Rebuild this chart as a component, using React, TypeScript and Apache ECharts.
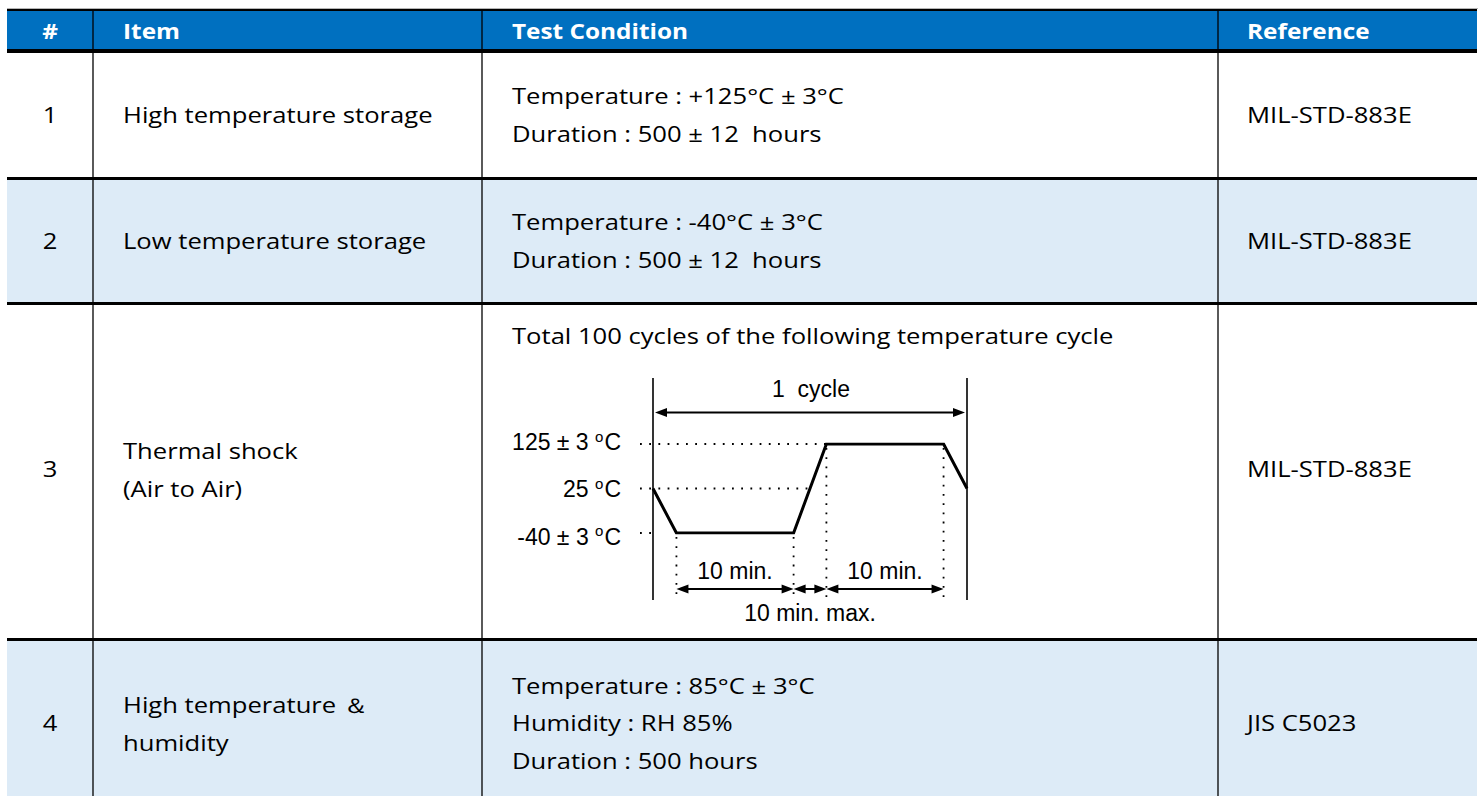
import React, { useEffect, useRef } from "react";
import * as echarts from "echarts";

// ---------- table content ----------
const headers = ["#", "Item", "Test Condition", "Reference"];
const rowNumbers = ["1", "2", "3", "4"];
const items = [
  ["High temperature storage"],
  ["Low temperature storage"],
  ["Thermal shock", "(Air to Air)"],
  ["High temperature ＆", "humidity"],
];
const conditions = [
  ["Temperature : +125°C ± 3°C", "Duration : 500 ± 12  hours"],
  ["Temperature : -40°C ± 3°C", "Duration : 500 ± 12  hours"],
  ["Total 100 cycles of the following temperature cycle"],
  ["Temperature : 85°C ± 3°C", "Humidity : RH 85%", "Duration : 500 hours"],
];
const references = ["MIL-STD-883E", "MIL-STD-883E", "MIL-STD-883E", "JIS C5023"];

// ---------- thermal-cycle diagram content ----------
const levelLabels = ["-40 ± 3 ", "25 ", "125 ± 3 "]; // followed by superscript o + C
const cycleTimes = [0, 2, 12, 14.8, 24.8, 26.8]; // minutes (schematic)
const cycleLevels = [1, 0, 0, 2, 2, 1]; // index into levelLabels
const cycleLabel = "1  cycle";
const dwellLabels = ["10 min.", "10 min."];
const transferLabel = "10 min. max.";

// ---------- layout (positions / styles) ----------
const W = 1478;
const H = 796;
const X0 = 7;
const X1 = 1477;
const colX = [X0, 93, 482, 1218, X1];
const rowBands = [
  [53, 177],
  [180, 302],
  [305, 638],
  [641, 800],
];
const rowFill = ["#FFFFFF", "#DDEBF7", "#FFFFFF", "#DDEBF7"];
const rowCenter = [115, 241, 469, 723];
const condTop = [null, null, 336, null];
const LINE = 38;
const BODY_FONT = "'Open Sans', sans-serif";
const BODY_SIZE = 21;
const SX = 1.22;
const HSX = 1.16;
const DIAG_FONT = "'Liberation Sans', Arial, sans-serif";
const DIAG_SIZE = 23;
const DSX = 1.0;

function txt(text: string, x: number, y: number, o: any = {}) {
  return {
    type: "text",
    x,
    y,
    scaleX: o.scaleX ?? SX,
    z: 10,
    style: {
      text,
      x: 0,
      y: 0,
      fill: o.fill ?? "#000",
      fontFamily: o.fontFamily ?? BODY_FONT,
      fontSize: o.fontSize ?? BODY_SIZE,
      fontWeight: o.fontWeight ?? "normal",
      textAlign: o.align ?? "left",
      align: o.align ?? "left",
      textVerticalAlign: "middle",
      verticalAlign: "middle",
      rich: o.rich,
    },
  };
}

function rect(x: number, y: number, w: number, h: number, fill: string, z = 1) {
  return { type: "rect", z, shape: { x, y, width: w, height: h }, style: { fill } };
}

function line(x1: number, y1: number, x2: number, y2: number, w: number, dash?: number[], z = 5) {
  return {
    type: "line",
    z,
    shape: { x1, y1, x2, y2 },
    style: { stroke: "#000", lineWidth: w, lineDash: dash, fill: null },
  };
}

function arrowHead(tipX: number, y: number, dir: number) {
  const L = 12;
  const hw = 4.5;
  return {
    type: "polygon",
    z: 6,
    shape: {
      points: [
        [tipX, y],
        [tipX - dir * L, y - hw],
        [tipX - dir * L, y + hw],
      ],
    },
    style: { fill: "#000" },
  };
}

function dblArrow(xa: number, xb: number, y: number) {
  return [line(xa + 6, y, xb - 6, y, 2), arrowHead(xa, y, -1), arrowHead(xb, y, 1)];
}

export default function App() {
  const ref = useRef<HTMLDivElement>(null);
  useEffect(() => {
    if (!ref.current) return;
    const chart = echarts.init(ref.current, undefined, { renderer: "svg" });
    chart.setOption({
      animation: false,
      backgroundColor: "#fff",
      grid: { left: 653, top: 444, width: 314, height: 89 },
      xAxis: { type: "value", min: 0, max: cycleTimes[cycleTimes.length - 1], show: false },
      yAxis: { type: "category", data: levelLabels, boundaryGap: false, show: false },
      series: [
        {
          type: "line",
          data: cycleTimes.map((t, i) => [t, cycleLevels[i]]),
          symbol: "none",
          z: 8,
          lineStyle: { color: "#000", width: 3, join: "miter" },
        },
      ],
    });

    const px = (t: number, lvl: number) => chart.convertToPixel({ gridIndex: 0 }, [t, lvl]) as number[];
    const g: any[] = [];

    // ----- table background & rules -----
    g.push({ type: "line", z: 1, shape: { x1: X0, y1: 8.5, x2: W, y2: 8.5 }, style: { stroke: "#b5b5b5", lineWidth: 1 } });
    g.push(rect(X0, 9, X1 - X0, 2, "#000"));
    g.push(rect(X0, 11, X1 - X0, 38, "#0070C0"));
    g.push(rect(X0, 49, X1 - X0, 4, "#000"));
    rowBands.forEach((b, i) => {
      g.push(rect(X0, b[0], X1 - X0, b[1] - b[0], rowFill[i], 0));
      if (i < rowBands.length - 1) g.push(rect(X0, b[1], X1 - X0, rowBands[i + 1][0] - b[1], "#000", 2));
    });
    [colX[1], colX[2], colX[3]].forEach((x) => {
      g.push(line(x, 11, x, 49, 1.3, undefined, 3));
      g.push(line(x, 53, x, H, 1.3, undefined, 3));
    });

    // ----- header text -----
    const hdrY = 31;
    const hOpt = { fill: "#fff", fontWeight: "bold", scaleX: HSX };
    g.push(txt(headers[0], (colX[0] + colX[1]) / 2, hdrY, { ...hOpt, align: "center" }));
    g.push(txt(headers[1], colX[1] + 30, hdrY, hOpt));
    g.push(txt(headers[2], colX[2] + 30, hdrY, hOpt));
    g.push(txt(headers[3], colX[3] + 29, hdrY, hOpt));

    // ----- body text -----
    rowNumbers.forEach((n, i) => {
      const c = rowCenter[i];
      g.push(txt(n, (colX[0] + colX[1]) / 2, c, { align: "center" }));
      const it = items[i];
      it.forEach((s, k) => g.push(txt(s, colX[1] + 30, c + (k - (it.length - 1) / 2) * LINE + (it.length > 1 ? 1 : 0))));
      const cd = conditions[i];
      if (condTop[i] != null) {
        cd.forEach((s, k) => g.push(txt(s, colX[2] + 30, (condTop[i] as number) + k * LINE)));
      } else {
        cd.forEach((s, k) => g.push(txt(s, colX[2] + 30, c + (k - (cd.length - 1) / 2) * 37.5)));
      }
      g.push(txt(references[i], colX[3] + 29, c));
    });

    // ----- thermal cycle diagram -----
    const dOpt = { fontFamily: DIAG_FONT, fontSize: DIAG_SIZE, scaleX: DSX, align: "center" };
    const tEnd = cycleTimes[cycleTimes.length - 1];
    const [xs] = px(0, 0);
    const [xe] = px(tEnd, 0);
    const yTopLine = 378;
    const yBottom = 600;
    g.push(line(xs, yTopLine, xs, yBottom, 1.6));
    g.push(line(xe, yTopLine, xe, yBottom, 1.6));
    // 1 cycle arrow
    const yCyc = 412.5;
    g.push(...dblArrow(xs + 2, xe - 2, yCyc));
    g.push(txt(cycleLabel, (xs + xe) / 2 + 1, 389, dOpt));

    const dot = [1.8, 7.4];
    const labelRight = 621;
    const labelOffset = [3.5, 0.5, -2];
    // level dotted lines and labels
    const rampUp = cycleTimes[3];
    const rampStart = cycleTimes[2];
    levelLabels.forEach((lab, li) => {
      const [, yl] = px(0, li);
      let xEnd = xs;
      if (li === 2) xEnd = px(rampUp, 2)[0];
      if (li === 1) xEnd = px((rampStart + rampUp) / 2, 1)[0];
      g.push(line(640, yl, xEnd, yl, 1.8, dot, 4));
      g.push(
        txt(`${lab}{s|o}C`, labelRight, yl + labelOffset[li], {
          fontFamily: DIAG_FONT,
          fontSize: DIAG_SIZE,
          scaleX: DSX,
          align: "right",
          rich: { s: { fontFamily: DIAG_FONT, fontSize: 15, fill: "#000", padding: [0, 1, 12, 0] } },
        })
      );
    });

    // vertical dotted guides at dwell boundaries
    const dwellIdx = [1, 2, 3, 4];
    dwellIdx.forEach((i) => {
      const [x, y] = px(cycleTimes[i], cycleLevels[i]);
      g.push(line(x, y + 4, x, yBottom, 1.8, dot, 4));
    });

    // bottom arrows
    const yArr = 589;
    const [xa] = px(cycleTimes[1], 0);
    const [xb] = px(cycleTimes[2], 0);
    const [xc] = px(cycleTimes[3], 0);
    const [xd] = px(cycleTimes[4], 0);
    g.push(...dblArrow(xa, xb, yArr));
    g.push(...dblArrow(xb, xc, yArr));
    g.push(...dblArrow(xc, xd, yArr));
    g.push(txt(dwellLabels[0], (xa + xb) / 2, 571, dOpt));
    g.push(txt(dwellLabels[1], (xc + xd) / 2, 571, dOpt));
    g.push(txt(transferLabel, (xb + xc) / 2, 613, dOpt));

    chart.setOption({ graphic: g });
    return () => chart.dispose();
  }, []);
  return <div ref={ref} style={{ position: "fixed", left: 0, top: 0, width: W, height: H }} />;
}
